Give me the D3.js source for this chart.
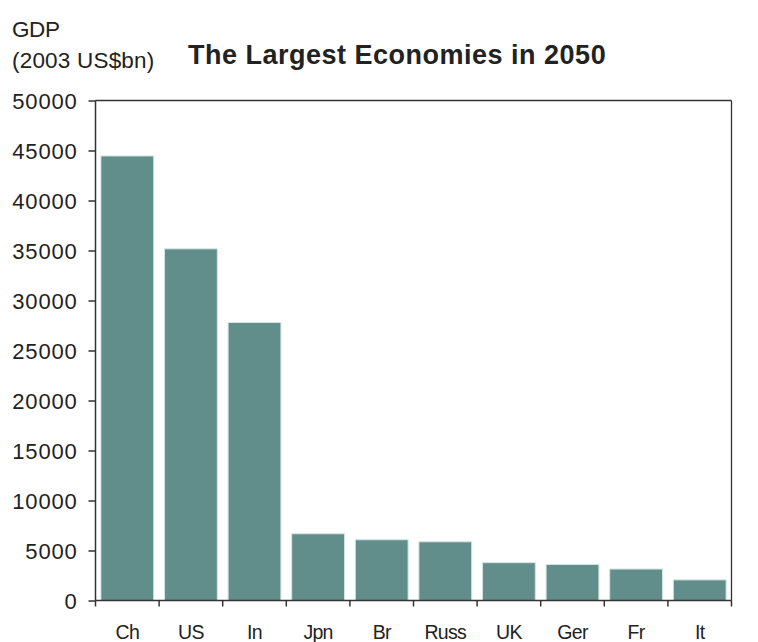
<!DOCTYPE html>
<html><head><meta charset="utf-8">
<script src="https://cdn.jsdelivr.net/npm/d3@7"></script>
<style>body{margin:0;background:#fff}svg{display:block}text{font-family:"Liberation Sans",Arial,sans-serif;fill:#222}</style>
</head><body><svg id="c" width="758" height="642"></svg>
<script>
const categories = ["Ch","US","In","Jpn","Br","Russ","UK","Ger","Fr","It"];
const gdp = [44453,35165,27803,6673,6074,5870,3782,3603,3148,2061];
const yTicks = [0,5000,10000,15000,20000,25000,30000,35000,40000,45000,50000];

const svg = d3.select("#c");
const L=95.5, R=731.5, T=100.5, B=600.5;
const x = d3.scaleBand().domain(categories).range([L,R]).paddingInner(0.17).paddingOuter(0.085);
const y = d3.scaleLinear().domain([0,50000]).range([B,T]);

// bars
svg.append("g").selectAll("rect").data(categories).join("rect")
  .attr("x", d=>x(d)).attr("width", x.bandwidth())
  .attr("y", (d,i)=>y(gdp[i])).attr("height",(d,i)=>B-y(gdp[i]))
  .attr("fill","#618d8a").attr("stroke","#d3e4e2").attr("stroke-width",1);

// frame
svg.append("line").attr("x1",L).attr("x2",R).attr("y1",T).attr("y2",T).attr("stroke","#333").attr("stroke-width",1.3);
svg.append("line").attr("x1",R).attr("x2",R).attr("y1",T).attr("y2",B).attr("stroke","#333").attr("stroke-width",1.3);

// y axis
const ya = svg.append("g").attr("transform",`translate(${L},0)`)
  .call(d3.axisLeft(y).tickValues(yTicks).tickSize(7).tickPadding(11).tickFormat(d3.format("d")));
ya.selectAll("path,line").attr("stroke","#333").attr("stroke-width",1.5);
ya.select("path").attr("d",`M0,${T}V${B}`);
ya.selectAll("text").style("font-size","22px").style("letter-spacing","0.8px").attr("fill","#222").attr("dy","0.36em");

// x axis
const xa = svg.append("g").attr("transform",`translate(0,${B})`)
  .call(d3.axisBottom(x).tickSize(0).tickPadding(0));
xa.selectAll("path").attr("stroke","#333").attr("stroke-width",1.5).attr("d",`M${L},0H${R}`);
xa.selectAll("text").style("font-size","19.5px").style("letter-spacing","-0.7px").attr("fill","#222").attr("y",38.5).attr("dy",null);
const step = x.step();
const bounds = d3.range(categories.length+1).map(i=> i===0?L:(i===categories.length?R:x(categories[i]) - x.paddingInner()*step/2));
svg.append("g").selectAll("line").data(bounds).join("line")
  .attr("x1",d=>d).attr("x2",d=>d).attr("y1",B).attr("y2",B+6).attr("stroke","#333").attr("stroke-width",1.5);

// titles
svg.append("text").attr("x",12).attr("y",37).style("font-size","22.5px").style("letter-spacing","-0.4px").text("GDP");
svg.append("text").attr("x",12).attr("y",68).style("font-size","22.5px").style("letter-spacing","0.2px").text("(2003 US$bn)");
svg.append("text").attr("x",188).attr("y",64).style("font-size","27px").style("font-weight","bold").style("letter-spacing","0.5px").text("The Largest Economies in 2050");
</script></body></html>
